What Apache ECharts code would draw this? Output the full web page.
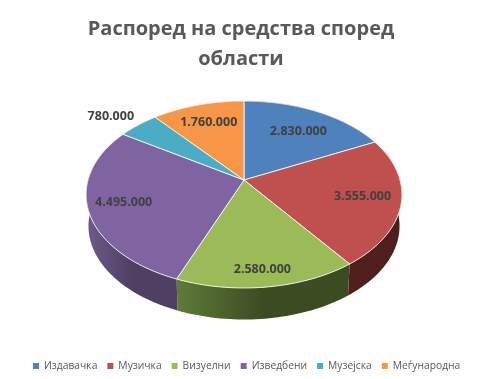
<!DOCTYPE html>
<html>
<head>
<meta charset="utf-8">
<style>html,body{margin:0;padding:0;background:#fff}#main{width:491px;height:379px}</style>
<script src="https://cdn.jsdelivr.net/npm/echarts@6/dist/echarts.min.js"></script>
</head>
<body>
<div id="main"></div>
<script>
var categories = ['Издавачка', 'Музичка', 'Визуелни', 'Изведбени', 'Музејска', 'Меѓународна'];
var values = [2830000, 3555000, 2580000, 4495000, 780000, 1760000];
var colors = ['#4f81bd', '#c0504d', '#9bbb59', '#8064a2', '#4bacc6', '#f79646'];
var labelRadius = [0.69, 0.76, 0.86, 0.78, 1.24, 0.74];
var labelTurn = [1.5, 0, 0.5, 0, -2.2, 0];
var wallFrom = ['#2c4a6e', '#4f1f1d', '#5f7b3a', '#6f5a8a', '#2c6575', '#8a5426'];
var wallTo = ['#2c4a6e', '#4f1f1d', '#3c4c22', '#4f3f63', '#2c6575', '#8a5426'];

// flattened disc in perspective: apex sits above the centre of the ellipse
var cx = 244, cy = 180, ax = 156, ay = 91.25, persp = 0.155, depth = 31.5, shrink = 0.985;

var total = values.reduce(function (a, b) { return a + b; }, 0);
var starts = [], sum = 0;
values.forEach(function (v) { starts.push(sum / total * Math.PI * 2); sum += v; });

function project(angle, r) {
    var u = r * Math.sin(angle), w = -r * Math.cos(angle), d = 1 - persp * w;
    return [cx + ax * u / d, cy + ay * w / d];
}
function rim(i) {
    var a0 = starts[i], a1 = a0 + values[i] / total * Math.PI * 2, pts = [];
    var n = Math.ceil((a1 - a0) * 40);
    for (var k = 0; k <= n; k++) pts.push(project(a0 + (a1 - a0) * k / n, 1));
    return pts;
}
function formatValue(v) {
    return String(v).replace(/\B(?=(\d{3})+$)/g, '.');
}

function wallItem(i) {
    return function () {
        var top = rim(i);
        var bottom = top.map(function (p) {
            return [cx + (p[0] - cx) * shrink, p[1] + depth];
        }).reverse();
        return {
            type: 'polygon',
            shape: { points: top.concat(bottom) },
            style: {
                fill: new echarts.graphic.LinearGradient(0, 0, 1, 0, [
                    { offset: 0, color: wallFrom[i] },
                    { offset: 0.5, color: wallTo[i] },
                    { offset: 1, color: wallTo[i] }
                ])
            }
        };
    };
}
function faceItem(i) {
    return function () {
        var mid = starts[i] + values[i] / total * Math.PI + labelTurn[i] * Math.PI / 180;
        var pos = project(mid, labelRadius[i]);
        return {
            type: 'group',
            children: [{
                type: 'polygon',
                shape: { points: [[cx, cy]].concat(rim(i)) },
                style: { fill: colors[i], stroke: 'rgba(255,255,255,0.8)', lineWidth: 1, lineJoin: 'round' }
            }, {
                type: 'text',
                z2: 10,
                style: {
                    x: pos[0], y: pos[1],
                    text: formatValue(values[i]),
                    fill: '#404040',
                    font: 'bold 12.5px "Open Sans"',
                    align: 'center',
                    verticalAlign: 'middle'
                }
            }]
        };
    };
}

var series = [];
categories.forEach(function (name, i) {
    series.push({
        type: 'custom', name: name, coordinateSystem: 'none', z: 3,
        itemStyle: { color: colors[i] },
        data: [[values[i]]],
        renderItem: faceItem(i)
    });
    series.push({
        type: 'custom', name: name, coordinateSystem: 'none', z: 2,
        itemStyle: { color: colors[i] },
        data: [[values[i]]],
        renderItem: wallItem(i)
    });
});

var myChart = echarts.init(document.getElementById('main'));
myChart.setOption({
    animation: false,
    backgroundColor: '#fff',
    title: {
        text: 'Распоред на средства според\nобласти',
        left: 236,
        top: 9,
        textAlign: 'center',
        textStyle: {
            color: '#595959',
            fontFamily: 'Open Sans',
            fontWeight: 'bold',
            fontSize: 20,
            lineHeight: 30
        }
    },
    legend: {
        data: categories,
        left: 28,
        top: 356,
        icon: 'rect',
        itemWidth: 6,
        itemHeight: 6,
        itemGap: 10,
        textStyle: { color: '#595959', fontFamily: 'Open Sans', fontSize: 10.3 }
    },
    series: series
});
</script>
</body>
</html>
